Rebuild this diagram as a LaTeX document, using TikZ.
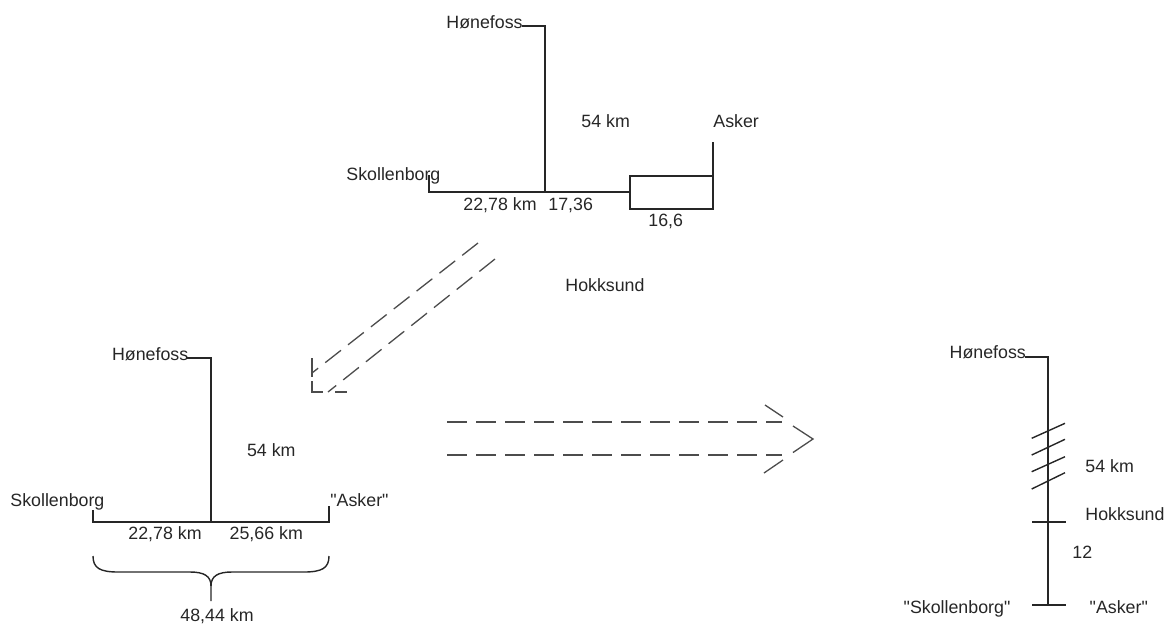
\documentclass[tikz,border=0pt]{standalone}
\usepackage{fontspec}
\setmainfont{Liberation Sans}[Ligatures=TeXOff]
\begin{document}
\begin{tikzpicture}[x=0.5pt,y=-0.5pt,
  lbl/.style={anchor=base west, inner sep=0pt, font=\fontsize{8.9}{10}\selectfont, text=black!85},
  route/.style={draw=black!85, line width=0.7pt},
  dsh/.style={draw=black!70, line width=0.65pt, dash pattern=on 10pt off 4.5pt},
  headline/.style={draw=black!70, line width=0.65pt}]
\useasboundingbox (0,0) rectangle (1164,623);

% ---------- top diagram ----------
\node[lbl] (tHon) at (446,28) {Hønefoss};
\node[lbl] (tSko) at (346,180) {Skollenborg};
\node[lbl] (tAsk) at (713,127) {Asker};
\node[lbl] (t54) at (581,127) {54 km};
\node[lbl] (t2278) at (463,210) {22,78 km};
\node[lbl] (t1736) at (548,210) {17,36};
\node[lbl] (t166) at (648,226.7) {16,6};
\node[lbl] (tHok) at (565,291.7) {Hokksund};
\coordinate (tH1) at (522,26);
\coordinate (tH2) at (545,26);
\coordinate (tJ) at (545,192);
\coordinate (tS1) at (429,175);
\coordinate (tS2) at (429,192);
\coordinate (tB1) at (630,192);
\coordinate (tB2) at (630,176);
\coordinate (tB3) at (713,176);
\coordinate (tB4) at (713,209);
\coordinate (tB5) at (630,209);
\coordinate (tA1) at (713,142);
\draw[route] (tH1) -- (tH2) -- (tJ);
\draw[route] (tS1) -- (tS2) -- (tJ) -- (tB1);
\draw[route] (tB1) -- (tB2) -- (tB3) -- (tB4) -- (tB5) -- (tB1);
\draw[route] (tA1) -- (tB3);

% ---------- diagonal dashed double arrow ----------
\coordinate (d1s) at (478,243);
\coordinate (d1e) at (312,373);
\coordinate (d2s) at (495,259);
\coordinate (d2e) at (328,392);
\draw[dsh] (d1s) -- (d1e);
\draw[dsh] (d2s) -- (d2e);
\coordinate (dh1) at (312,358);
\coordinate (dh2) at (312,377);
\coordinate (dh3) at (312,381);
\coordinate (dh4) at (312,392);
\coordinate (dh5) at (323,392);
\coordinate (dh6) at (335,392);
\coordinate (dh7) at (347,392);
\draw[headline] (dh1) -- (dh2);
\draw[headline] (dh3) -- (dh4) -- (dh5);
\draw[headline] (dh6) -- (dh7);

% ---------- horizontal dashed double arrow ----------
\coordinate (h1s) at (447,422);
\coordinate (h1e) at (782,422);
\coordinate (h2s) at (447,455);
\coordinate (h2e) at (782,455);
\draw[dsh] (h1s) -- (h1e);
\draw[dsh] (h2s) -- (h2e);
\coordinate (hh1) at (765,405);
\coordinate (hh2) at (783,417);
\coordinate (hh3) at (793,426);
\coordinate (hh4) at (813,439);
\coordinate (hh5) at (793,452.5);
\coordinate (hh6) at (783,460);
\coordinate (hh7) at (764,473);
\draw[headline] (hh1) -- (hh2);
\draw[headline] (hh3) -- (hh4) -- (hh5);
\draw[headline] (hh6) -- (hh7);

% ---------- bottom-left diagram ----------
\node[lbl] (lHon) at (111.7,360) {Hønefoss};
\node[lbl] (lSko) at (10,506.7) {Skollenborg};
\node[lbl] (lAsk) at (330,506.7) {"Asker"};
\node[lbl] (l54) at (246.7,456.7) {54 km};
\node[lbl] (l2278) at (128,539) {22,78 km};
\node[lbl] (l2566) at (229.3,539) {25,66 km};
\node[lbl] (l4844) at (180,621.7) {48,44 km};
\coordinate (lH1) at (187,358);
\coordinate (lH2) at (211,358);
\coordinate (lJ) at (211,522);
\coordinate (lS1) at (93,510);
\coordinate (lS2) at (93,522);
\coordinate (lA1) at (329,506);
\coordinate (lA2) at (329,522);
\draw[route] (lH1) -- (lH2) -- (lJ);
\draw[route] (lS1) -- (lS2) -- (lA2) -- (lA1);
% brace
\coordinate (bL) at (93,556);
\coordinate (bR) at (329,556);
\coordinate (bM) at (211,586);
\coordinate (bT) at (211,601);
\draw[route] (bL) .. controls (93,568) and (100,572) .. (118,572) -- (190,572)
  .. controls (204,572) and (211,576) .. (bM) -- (bT);
\draw[route] (bR) .. controls (329,568) and (322,572) .. (304,572) -- (232,572)
  .. controls (218,572) and (211,576) .. (bM);

% ---------- right diagram ----------
\node[lbl] (rHon) at (949.3,358) {Hønefoss};
\node[lbl] (r54) at (1085,472.7) {54 km};
\node[lbl] (rHok) at (1085,520) {Hokksund};
\node[lbl] (r12) at (1072,558.3) {12};
\node[lbl] (rSko) at (903.3,613.3) {"Skollenborg"};
\node[lbl] (rAsk) at (1089.3,613.3) {"Asker"};
\coordinate (rH1) at (1025,357);
\coordinate (rH2) at (1048,357);
\coordinate (rE) at (1048,605);
\draw[route] (rH1) -- (rH2) -- (rE);
\foreach \a/\b [count=\i] in {438.3/423.3, 455/439.3, 471.7/456.7, 489/472.7}{
  \coordinate (hatchA\i) at (1031.7,\a);
  \coordinate (hatchB\i) at (1065,\b);
  \draw[route] (hatchA\i) -- (hatchB\i);
}
\coordinate (rK1) at (1032,522);
\coordinate (rK2) at (1066,522);
\coordinate (rT1) at (1032,605);
\coordinate (rT2) at (1066,605);
\draw[route] (rK1) -- (rK2);
\draw[route] (rT1) -- (rT2);
\end{tikzpicture}
\end{document}
